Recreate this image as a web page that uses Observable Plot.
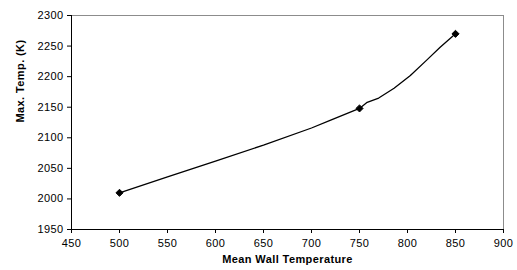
<!DOCTYPE html>
<html>
<head>
<meta charset="utf-8">
<script src="https://cdn.jsdelivr.net/npm/d3@7"></script>
<script src="https://cdn.jsdelivr.net/npm/@observablehq/plot@0.6"></script>
<style>
  body { margin: 0; background: #fff; }
  svg text { letter-spacing: 0.4px; }
</style>
</head>
<body>
<div id="chart"></div>
<script>
// Curve (mean wall temperature vs max temperature)
const wallTemp = [500, 550, 600, 650, 700, 720, 750, 758, 770, 786, 803, 820, 834, 850];
const maxTemp  = [2010, 2036, 2062, 2088, 2116, 2129, 2148, 2158, 2165, 2181, 2202, 2227, 2248, 2270];
// Marked data points
const markWall = [500, 750, 850];
const markMax  = [2010, 2148, 2270];
// Tick labels
const xTicks = [450, 500, 550, 600, 650, 700, 750, 800, 850, 900];
const yTicks = [1950, 2000, 2050, 2100, 2150, 2200, 2250, 2300];
const xTitle = "Mean Wall Temperature";
const yTitle = "Max. Temp. (K)";

const curve = wallTemp.map((x, i) => ({x, y: maxTemp[i]}));
const marks = markWall.map((x, i) => ({x, y: markMax[i]}));

const chart = Plot.plot({
  width: 517,
  height: 270,
  marginLeft: 71,
  marginRight: 14,
  marginTop: 15,
  marginBottom: 41,
  style: {fontFamily: "Liberation Sans, Arial, sans-serif", fontSize: "11px", color: "#000", background: "#fff"},
  x: {domain: [450, 900]},
  y: {domain: [1950, 2300]},
  marks: [
    Plot.frame({stroke: "#8c8c8c"}),
    Plot.axisX({ticks: xTicks, tickSize: 4, tickPadding: 6, label: null, stroke: "#000", tickFormat: d3.format("d")}),
    Plot.axisY({ticks: yTicks, tickSize: 4, tickPadding: 4, label: null, stroke: "#000", tickFormat: d3.format("d")}),
    Plot.ruleX([450], {stroke: "#000"}),
    Plot.ruleY([1950], {stroke: "#000"}),
    Plot.line(curve, {x: "x", y: "y", stroke: "#000", strokeWidth: 1.3, curve: "linear"}),
    Plot.dot(marks, {x: "x", y: "y", symbol: "diamond2", fill: "#000", stroke: "#000", strokeWidth: 1, r: 3.2}),
    Plot.text([xTitle], {frameAnchor: "bottom", dy: 33, fontWeight: "bold", fontSize: 11}),
    Plot.text([yTitle], {frameAnchor: "left", dx: -51, rotate: -90, fontWeight: "bold", fontSize: 11})
  ]
});
document.getElementById("chart").appendChild(chart);
</script>
</body>
</html>
